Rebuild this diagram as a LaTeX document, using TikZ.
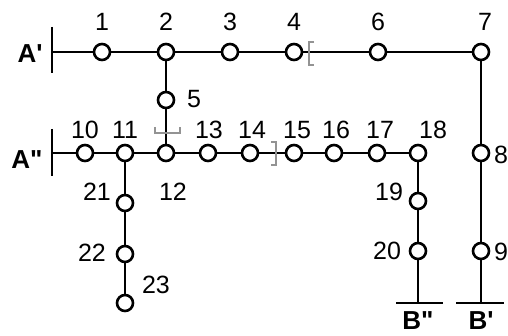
\documentclass[tikz,border=0pt]{standalone}
\usepackage{fontspec}
\setmainfont{Liberation Sans}
\newfontfamily\plainsans{Liberation Sans}
\begin{document}
\begin{tikzpicture}[x=1pt,y=-1pt,
  stn/.style={circle, draw=black, line width=2.6pt, fill=white, minimum size=16pt, inner sep=0pt},
  trk/.style={line width=2.6pt, black},
  brk/.style={line width=2.6pt, gray!85},
  num/.style={font=\fontsize{25}{25}\selectfont, inner sep=0pt},
  term/.style={font=\plainsans\fontsize{26}{26}\selectfont\bfseries, inner sep=0pt}]
\useasboundingbox (0,0) rectangle (508,336);
% terminals
\coordinate (a1t) at (52,27); \coordinate (a1b) at (52,73); \coordinate (a1) at (52,52);
\coordinate (a2t) at (52,129); \coordinate (a2b) at (52,176); \coordinate (a2) at (52,153);
\coordinate (b2l) at (396,303); \coordinate (b2r) at (443,303); \coordinate (b2) at (418,303);
\coordinate (b1l) at (456,303); \coordinate (b1r) at (504,303); \coordinate (b1) at (481,303);
% stations
\node[stn] (n1) at (102,52) {};
\node[stn] (n2) at (166,52) {};
\node[stn] (n3) at (230,52) {};
\node[stn] (n4) at (294,52) {};
\node[stn] (n6) at (378,52) {};
\node[stn] (n7) at (481,52) {};
\node[stn] (n5) at (166,100) {};
\node[stn] (n10) at (85,153) {};
\node[stn] (n11) at (125,153) {};
\node[stn] (n12) at (166,153) {};
\node[stn] (n13) at (208,153) {};
\node[stn] (n14) at (250,153) {};
\node[stn] (n15) at (294,153) {};
\node[stn] (n16) at (334,153) {};
\node[stn] (n17) at (377,153) {};
\node[stn] (n18) at (418,153) {};
\node[stn] (n8) at (481,153) {};
\node[stn] (n9) at (481,251) {};
\node[stn] (n19) at (418,201) {};
\node[stn] (n20) at (418,251) {};
\node[stn] (n21) at (125,203) {};
\node[stn] (n22) at (125,254) {};
\node[stn] (n23) at (125,303) {};
% bars
\draw[trk] (a1t) -- (a1b);
\draw[trk] (a2t) -- (a2b);
\draw[trk] (b2l) -- (b2r);
\draw[trk] (b1l) -- (b1r);
% tracks
\draw[trk] (a1) -- (n1) -- (n2) -- (n3) -- (n4) -- (n6) -- (n7) -- (n8) -- (n9) -- (b1);
\draw[trk] (n2) -- (n5) -- (n12);
\draw[trk] (a2) -- (n10) -- (n11) -- (n12) -- (n13) -- (n14) -- (n15) -- (n16) -- (n17) -- (n18) -- (n19) -- (n20) -- (b2);
\draw[trk] (n11) -- (n21) -- (n22) -- (n23);
% gray brackets
\draw[brk] (314,42) -- (309,42) -- (309,65) -- (314,65);
\draw[brk] (271,142) -- (276,142) -- (276,165) -- (271,165);
\draw[brk] (155,127) -- (155,133) -- (180,133) -- (180,127);
% labels
\node[num] (l1) at (102,22) {1};
\node[num] (l2) at (166,22) {2};
\node[num] (l3) at (230,22) {3};
\node[num] (l4) at (294,22) {4};
\node[num] (l6) at (378,22) {6};
\node[num] (l7) at (485,22) {7};
\node[num] (l5) at (194,99) {5};
\node[num] (l10) at (85,130) {10};
\node[num] (l11) at (125,130) {11};
\node[num] (l13) at (209,130) {13};
\node[num] (l14) at (252,130) {14};
\node[num] (l15) at (297,130) {15};
\node[num] (l16) at (336,130) {16};
\node[num] (l17) at (380,130) {17};
\node[num] (l18) at (433,130) {18};
\node[num] (l8) at (501,155) {8};
\node[num] (l9) at (501,252) {9};
\node[num] (l12) at (173,192) {12};
\node[num] (l21) at (97,192) {21};
\node[num] (l22) at (92,253) {22};
\node[num] (l23) at (156,285) {23};
\node[num] (l19) at (389,192) {19};
\node[num] (l20) at (387,251) {20};
\node[term] (tA1) at (30,54) {A'};
\node[term] (tA2) at (27,160) {A"};
\node[term] (tB2) at (418,321) {B"};
\node[term] (tB1) at (481,321) {B'};
\end{tikzpicture}
\end{document}
